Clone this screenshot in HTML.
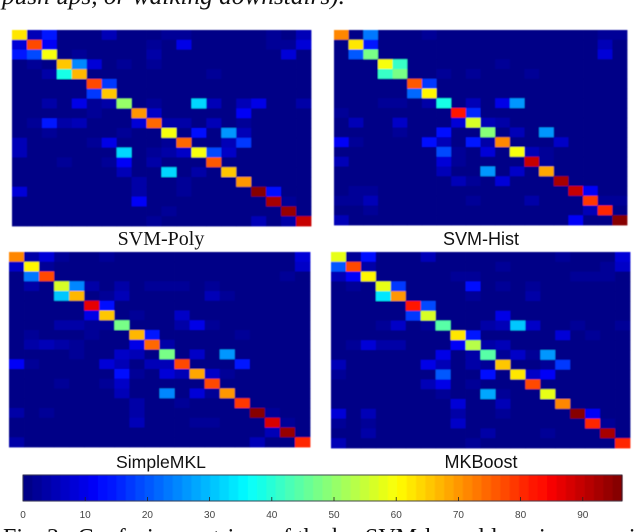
<!DOCTYPE html>
<html lang="en">
<head>
<meta charset="utf-8">
<title>Confusion matrices</title>
<style>
html,body{margin:0;padding:0;background:#fff;}
#stage{display:block;width:640px;height:532px;overflow:hidden;}
text{fill:#111;}
</style>
</head>
<body>
<svg id="stage" xmlns="http://www.w3.org/2000/svg" width="640" height="532" viewBox="0 0 640 532">
<defs><filter id="soft" x="-2%" y="-2%" width="104%" height="104%"><feGaussianBlur stdDeviation="0.5"/></filter></defs>
<text x="2" y="4" font-family="'Liberation Serif',serif" font-style="italic" font-size="25.3">push ups, or walking downstairs).</text>
<g id="panels"></g>
<g id="colorbar"></g>
<text x="3" y="545" font-family="'Liberation Serif',serif" font-size="24" xml:space="preserve">Fig. 3:  Confusion matrices of the best <tspan x="365">SVM-kernel learning experiments and</tspan></text>
</svg>
<script>
const maxValue = 96.3;
const colorLevels = 64;
const colorbarTicks = [0, 10, 20, 30, 40, 50, 60, 70, 80, 90];

const svmPolyValues = [
[62,6,15,0,0,0,6,0,0,0,3,3,0,0,0,0,0,3,1,5],
[8,78,11,0,0,0,0,0,0,2,0,10,0,0,0,0,0,3,2,8],
[14,19,59,0,2,0,0,0,0,4,0,0,0,0,0,0,0,0,8,0],
[0,2,1,65,25,8,0,3,0,3,0,0,0,0,0,0,0,0,0,0],
[0,0,4,38,67,0,0,1,0,0,0,0,0,3,0,0,0,0,0,0],
[0,0,0,0,0,78,17,0,0,0,0,0,0,0,0,0,0,0,0,0],
[0,0,0,0,0,17,65,0,0,0,0,0,0,0,0,0,0,0,0,0],
[0,0,4,0,10,3,4,50,0,2,0,0,33,5,0,5,10,0,0,4],
[0,0,0,0,0,2,0,0,70,7,0,0,0,0,0,11,0,0,0,0],
[0,3,15,4,6,0,0,0,8,75,4,4,0,5,0,2,0,0,0,0],
[0,0,2,0,0,0,0,2,0,0,59,0,13,0,27,5,0,0,0,0],
[5,0,0,0,0,3,10,0,0,1,3,74,0,0,6,17,0,0,0,0],
[5,0,0,0,0,0,0,32,0,2,4,7,59,19,7,0,0,0,0,0],
[0,0,0,3,0,0,2,12,0,4,0,0,0,76,0,0,0,0,0,0],
[0,0,0,0,0,0,0,5,0,0,33,0,4,0,66,0,0,0,0,0],
[0,0,0,0,0,0,0,0,4,1,0,2,0,0,0,70,0,0,0,0],
[9,0,0,0,0,0,0,0,4,0,0,3,0,0,0,0,95,13,0,1],
[0,0,0,0,0,0,0,0,11,0,0,0,0,0,0,0,0,92,3,0],
[0,0,0,0,0,0,0,0,0,0,2,0,0,0,0,0,0,0,94,0],
[0,0,0,0,0,0,0,0,0,3,0,0,0,0,0,0,5,0,4,90]
];

const svmHistValues = [
[71,0,23,0,0,0,3,0,0,0,0,0,0,0,0,0,0,0,3,3],
[0,63,14,0,0,0,0,0,0,0,0,0,0,0,0,0,0,1,5,0],
[0,20,47,0,0,0,0,0,0,0,0,0,0,0,0,0,0,0,8,0],
[0,0,0,59,41,0,0,0,0,0,0,2,0,0,0,0,0,0,0,0],
[0,0,0,41,47,0,0,3,0,2,0,0,0,3,0,0,0,0,0,0],
[0,0,0,0,0,76,17,0,0,0,0,0,0,0,0,0,0,0,0,0],
[0,0,0,0,0,22,61,0,0,0,0,0,0,0,0,0,0,0,0,0],
[0,0,0,3,2,0,4,39,0,5,0,10,27,0,0,0,0,0,0,0],
[2,0,0,0,0,0,0,0,82,16,0,0,0,0,0,0,0,0,0,0],
[0,6,0,0,7,0,0,0,9,57,6,4,0,0,0,0,0,0,0,0],
[0,0,0,0,2,0,0,13,0,0,49,0,5,0,27,0,0,0,0,0],
[11,3,0,0,0,0,13,6,0,14,4,71,0,0,0,7,0,0,0,0],
[0,0,0,0,0,0,0,19,2,0,9,0,59,5,3,0,0,0,0,0],
[6,0,0,0,0,0,0,9,2,0,0,0,0,90,2,0,0,0,0,0],
[0,0,0,0,0,0,0,6,0,0,26,0,7,0,68,0,0,0,0,0],
[0,0,0,0,0,0,0,0,5,2,0,8,0,0,0,92,0,0,0,0],
[0,3,3,0,0,0,0,0,0,0,0,0,0,0,0,0,90,12,0,0],
[3,3,5,0,0,0,0,0,0,3,0,0,0,4,0,0,0,79,3,2],
[0,0,2,0,0,0,0,0,0,0,0,0,0,0,0,0,0,6,81,1],
[5,0,0,0,0,0,0,0,0,0,0,0,0,0,0,0,12,1,1,95]
];

const simpleMklValues = [
[71,4,8,2,0,0,2,0,0,0,0,0,0,0,0,0,0,0,0,9],
[7,61,3,0,0,0,0,0,0,0,0,0,0,0,0,0,0,0,0,7],
[0,24,77,0,0,0,0,0,0,0,0,0,0,0,0,0,0,0,2,0],
[1,4,0,57,25,4,0,4,0,2,3,2,0,3,0,0,0,0,0,0],
[0,0,0,31,67,0,2,6,0,0,0,0,0,5,2,0,0,0,0,0],
[0,0,0,0,0,86,13,0,0,0,0,0,0,0,0,0,0,0,0,0],
[0,0,0,0,0,10,65,0,2,0,0,7,0,0,0,0,0,0,0,0],
[0,0,0,4,4,2,3,47,0,0,0,4,10,3,0,0,0,0,0,0],
[0,2,0,0,0,2,0,0,67,14,0,0,0,0,0,3,0,0,0,0],
[0,4,5,4,3,0,0,0,10,75,4,0,0,0,0,0,0,0,0,0],
[0,0,0,0,3,0,0,7,5,0,47,0,7,0,26,0,0,0,0,0],
[11,2,0,0,0,0,9,5,1,5,6,78,0,0,0,14,0,0,0,0],
[0,0,0,0,0,0,0,13,3,0,8,5,69,7,3,0,0,0,0,0],
[0,0,0,2,0,0,3,7,0,0,0,0,0,78,0,0,0,0,0,0],
[0,0,0,0,0,0,0,5,0,0,25,0,9,2,70,0,0,0,0,0],
[0,0,0,0,0,0,0,0,4,0,0,2,0,0,0,79,0,0,0,0],
[4,0,3,0,0,0,0,0,4,0,0,0,0,0,0,0,95,3,0,0],
[0,0,0,0,0,0,0,0,6,0,0,0,2,3,0,0,0,88,3,0],
[0,0,0,0,0,0,0,0,0,0,0,0,0,0,0,0,0,6,94,0],
[4,0,0,0,0,0,0,0,0,0,0,0,0,0,0,0,5,1,1,81]
];

const mkBoostValues = [
[58,3,13,0,0,0,6,0,0,0,0,0,0,0,0,2,0,0,0,8],
[20,78,4,0,0,0,0,0,0,0,0,3,0,0,0,0,0,0,2,7],
[5,12,61,0,0,0,0,0,3,2,0,0,0,0,0,0,2,3,3,0],
[0,2,0,58,18,0,0,0,0,13,0,2,0,3,0,0,0,0,0,0],
[0,0,1,34,70,0,0,1,0,2,0,0,0,4,0,0,0,0,0,0],
[0,0,0,0,0,82,19,0,0,0,0,0,0,0,0,0,0,0,0,0],
[0,0,0,0,0,18,56,0,0,0,0,10,0,0,0,0,0,0,0,0],
[0,0,0,3,7,0,3,45,0,0,4,6,31,7,0,0,3,0,0,3],
[0,0,0,0,0,0,0,0,63,14,0,0,0,0,0,9,0,2,0,0],
[0,2,9,4,4,0,0,0,11,54,4,5,0,0,0,0,0,0,0,0],
[0,0,0,0,0,0,0,10,0,4,45,3,7,3,27,0,0,0,0,0],
[5,0,0,0,0,0,10,5,0,4,2,66,0,0,2,17,0,0,0,0],
[3,0,0,0,0,0,0,21,0,0,13,0,62,7,11,0,0,0,0,0],
[0,0,0,0,0,0,5,10,0,3,0,0,1,78,0,0,0,0,0,0],
[0,0,0,0,0,0,0,3,0,0,28,3,0,0,58,0,0,0,0,0],
[0,0,0,0,0,0,0,0,9,0,0,6,0,0,0,71,0,0,0,0],
[8,0,5,0,0,0,0,0,4,0,0,3,0,0,0,0,95,11,0,0],
[2,0,3,0,0,0,0,0,7,0,0,0,0,0,0,0,0,81,3,0],
[0,0,4,0,0,0,0,0,0,0,4,0,0,0,3,0,0,0,93,0],
[6,0,0,0,0,0,0,0,0,2,0,0,0,0,0,0,0,0,0,80]
];

const svmPolyTitle = 'SVM-Poly';
const svmHistTitle = 'SVM-Hist';
const simpleMklTitle = 'SimpleMKL';
const mkBoostTitle = 'MKBoost';

const NS = 'http://www.w3.org/2000/svg';
function jet(v) {
  const lvl = Math.min(colorLevels - 1, Math.max(0, Math.floor(v / maxValue * colorLevels)));
  const t = (lvl + 0.5) / colorLevels;
  const c = x => Math.round(255 * Math.max(0, Math.min(1, 1.5 - Math.abs(4 * x))));
  return 'rgb(' + c(t - 0.75) + ',' + c(t - 0.5) + ',' + c(t - 0.25) + ')';
}
function make(tag, attrs, parent) {
  const el = document.createElementNS(NS, tag);
  for (const k in attrs) el.setAttribute(k, attrs[k]);
  parent.appendChild(el);
  return el;
}
function drawPanel(slug, title, values, box, labelX, labelY, labelFont, labelSize) {
  const root = document.getElementById('panels');
  const g = make('g', {filter: 'url(#soft)'}, root);
  
  
  const rows = values.length, cols = values[0].length;
  const sx = c => box.x + c * box.w / cols;
  const sy = r => box.y + r * box.h / rows;
  values.forEach((row, r) => row.forEach((v, c) => {
    const cell = make('rect', {
      x: sx(c), y: sy(r),
      width: box.w / cols + 0.4, height: box.h / rows + 0.4,
      fill: jet(v)
    }, g);
    
    
  }));
  const label = make('text', {
    x: labelX, y: labelY, 'text-anchor': 'middle',
    'font-family': labelFont, 'font-size': labelSize
  }, root);
  
  
  label.textContent = title;
}
const serifFont = "'Liberation Serif',serif";
const sansFont = "'Liberation Sans',sans-serif";
drawPanel('svm-poly', svmPolyTitle, svmPolyValues, {x: 12, y: 30, w: 299, h: 196}, 161, 245, serifFont, 20);
drawPanel('svm-hist', svmHistTitle, svmHistValues, {x: 334, y: 30, w: 293, h: 195}, 481, 245, sansFont, 18);
drawPanel('simple-mkl', simpleMklTitle, simpleMklValues, {x: 9, y: 252, w: 301, h: 195}, 161, 468, sansFont, 17.6);
drawPanel('mk-boost', mkBoostTitle, mkBoostValues, {x: 331, y: 252, w: 299, h: 196}, 481, 468, sansFont, 18);

(function drawColorbar() {
  const root = document.getElementById('colorbar');
  const bar = {x: 23, y: 475, w: 599, h: 26};
  const sx = v => bar.x + v / maxValue * bar.w;
  const g = make('g', {filter: 'url(#soft)'}, root);
  
  
  for (let i = 0; i < colorLevels; i++) {
    const v0 = i / colorLevels * maxValue;
    const step = make('rect', {
      x: sx(v0), y: bar.y,
      width: bar.w / colorLevels + 0.4, height: bar.h,
      fill: jet(v0 + 0.01)
    }, g);
    
    
  }
  const frame = make('rect', {
    x: bar.x, y: bar.y, width: bar.w, height: bar.h,
    fill: 'none', stroke: '#1c1c30', 'stroke-width': 0.8
  }, root);
  
  
  colorbarTicks.forEach(t => {
    if (t > 0) {
      const mark = make('line', {
        x1: sx(t), x2: sx(t), y1: bar.y + bar.h - 4, y2: bar.y + bar.h,
        stroke: '#222', 'stroke-width': 0.8
      }, root);
      
      
    }
    const lab = make('text', {
      x: sx(t), y: 518, 'text-anchor': 'middle',
      'font-family': sansFont, 'font-size': 10, style: 'fill:#444'
    }, root);
    
    
    lab.textContent = t;
  });
})();
</script>
</body>
</html>
